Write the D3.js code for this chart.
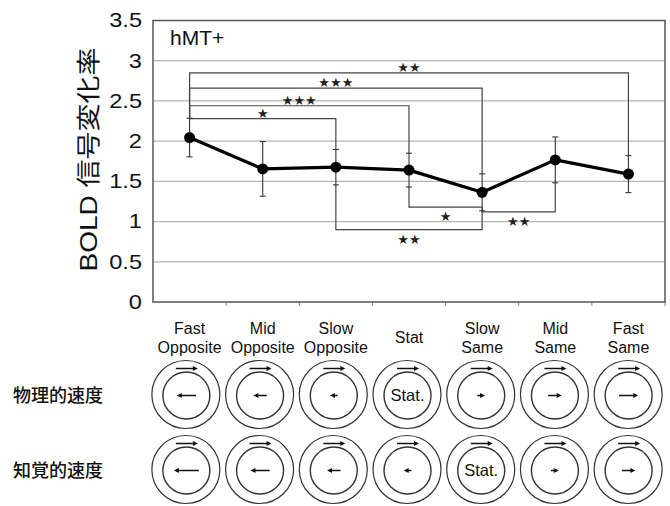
<!DOCTYPE html>
<html><head><meta charset="utf-8">
<script src="https://cdn.jsdelivr.net/npm/d3@7"></script>
<style>body{margin:0;background:#fff}svg{display:block}</style>
</head><body>
<svg id="c" width="670" height="506"></svg>
<script>
const categories = [["Fast","Opposite"],["Mid","Opposite"],["Slow","Opposite"],["Stat"],["Slow","Same"],["Mid","Same"],["Fast","Same"]];
const means = [2.045, 1.655, 1.676, 1.64, 1.364, 1.767, 1.59];
const errors = [0.24, 0.34, 0.22, 0.21, 0.23, 0.285, 0.23];
const yTicks = [0, 0.5, 1, 1.5, 2, 2.5, 3, 3.5];
const yTickLabels = ["0", "0.5", "1", "1.5", "2", "2.5", "3", "3.5"];
const upperBrackets = [[0, 6, 2.85, "★★"], [0, 4, 2.66, "★★★"], [0, 3, 2.44, "★★★"], [0, 2, 2.28, "★"]];
const lowerBrackets = [[3, 4, 1.18, "★"], [4, 5, 1.12, "★★"], [2, 4, 0.90, "★★"]];
const physicalSpeed = [-3, -2, -1, 0, 1, 2, 3];
const perceivedSpeed = [-4, -3, -2, -1, 0, 1, 2];
const rowLabels = ["物理的速度", "知覚的速度"];
const regionLabel = "hMT+";
const yTitle = "BOLD 信号変化率";

const svg = d3.select("#c");
const L = 153, R = 665, T = 20.5, B = 302;
const latin = "'Liberation Sans', Arial, Helvetica, sans-serif";
const cjk = "'Liberation Sans', 'Noto Sans CJK JP', sans-serif";
const idx = d3.range(categories.length);
const x = d3.scaleBand().domain(idx).range([L, R]);
const cx = i => x(i) + x.bandwidth() / 2;
const y = d3.scaleLinear().domain([0, 3.5]).range([B, T]);

// gridlines
svg.append("g").selectAll("line").data(yTicks.filter(v => v > 0 && v < 3.5)).join("line")
  .attr("x1", L).attr("x2", R).attr("y1", d => y(d)).attr("y2", d => y(d))
  .attr("stroke", "#b4b4b4").attr("stroke-width", 1.2);

// y axis labels
const yAxis = d3.axisLeft(y).tickValues(yTicks).tickFormat((d, i) => yTickLabels[i]).tickSize(0).tickPadding(0);
const ga = svg.append("g").attr("transform", `translate(${L},0)`).call(yAxis);
ga.select(".domain").remove();
ga.selectAll(".tick text").attr("x", 0).attr("font-family", latin).attr("font-size", 20).attr("fill", "#111")
  .attr("text-anchor", "end")
  .attr("transform", "translate(-11,0) scale(1.18,1)");

// x ticks at band boundaries
svg.append("g").selectAll("line").data(d3.range(1, categories.length + 1)).join("line")
  .attr("x1", d => x(0) + d * x.bandwidth()).attr("x2", d => x(0) + d * x.bandwidth())
  .attr("y1", B).attr("y2", B + 4).attr("stroke", "#888").attr("stroke-width", 1);

// plot frame
svg.append("rect").attr("x", L).attr("y", T).attr("width", R - L).attr("height", B - T)
  .attr("fill", "none").attr("stroke", "#555").attr("stroke-width", 1.5);

// brackets
const bg = svg.append("g").attr("fill", "none").attr("stroke", "#444").attr("stroke-width", 1.2);
const starFont = "'DejaVu Sans', sans-serif";
function drawBrackets(list, upper) {
  list.forEach(([a, b, lv, lab]) => {
    const end = i => upper ? means[i] + errors[i] : means[i] - errors[i];
    const p = d3.path();
    p.moveTo(cx(a), y(end(a)));
    p.lineTo(cx(a), y(lv)); p.lineTo(cx(b), y(lv)); p.lineTo(cx(b), y(end(b)));
    bg.append("path").attr("d", p.toString());
    svg.append("text").attr("x", (cx(a) + cx(b)) / 2).attr("y", y(lv) + (upper ? -1 : 14))
      .attr("text-anchor", "middle").attr("font-family", starFont).attr("font-size", 13).attr("fill", "#222").text(lab);
  });
}
drawBrackets(upperBrackets, true);
drawBrackets(lowerBrackets, false);

// error bars
const eg = svg.append("g").attr("stroke", "#333").attr("stroke-width", 1.1);
idx.forEach(i => {
  eg.append("line").attr("x1", cx(i)).attr("x2", cx(i)).attr("y1", y(means[i] - errors[i])).attr("y2", y(means[i] + errors[i]));
  [means[i] - errors[i], means[i] + errors[i]].forEach(v =>
    eg.append("line").attr("x1", cx(i) - 3).attr("x2", cx(i) + 3).attr("y1", y(v)).attr("y2", y(v)));
});

// line and markers
svg.append("path").datum(idx).attr("fill", "none").attr("stroke", "#000").attr("stroke-width", 3.2)
  .attr("stroke-linejoin", "round")
  .attr("d", d3.line().x(i => cx(i)).y(i => y(means[i])));
svg.append("g").selectAll("circle").data(idx).join("circle")
  .attr("cx", i => cx(i)).attr("cy", i => y(means[i])).attr("r", 5.5).attr("fill", "#000");

// region label
svg.append("text").attr("x", 170).attr("y", 45).attr("font-family", latin).attr("font-size", 21).attr("fill", "#111").text(regionLabel);

// y title
svg.append("text").attr("transform", `translate(97,159.5) rotate(-90)`).attr("text-anchor", "middle")
  .attr("font-family", cjk).attr("font-size", 24).attr("fill", "#111")
  .attr("textLength", 224).attr("lengthAdjust", "spacingAndGlyphs").text(yTitle);

// category labels
categories.forEach((c, i) => {
  const t = svg.append("text").attr("text-anchor", "middle").attr("font-family", latin).attr("font-size", 16).attr("fill", "#111");
  if (c.length === 1) {
    t.append("tspan").attr("x", cx(i)).attr("y", 343).text(c[0]);
  } else {
    t.append("tspan").attr("x", cx(i)).attr("y", 333.5).text(c[0]);
    t.append("tspan").attr("x", cx(i)).attr("y", 353).text(c[1]);
  }
});

// icons
const ix = d3.scaleBand().domain(idx).range([149, 665]);
const icx = i => ix(i) + ix.bandwidth() / 2;
const arrowLen = d3.scaleLinear().domain([0, 4]).range([2, 25]);
function arrow(g, x0, yy, len, dir) {
  const h = 5;
  const xe = x0 + dir * len / 2, xs = x0 - dir * len / 2;
  g.append("line").attr("x1", xs).attr("x2", xe - dir * h * 0.6).attr("y1", yy).attr("y2", yy)
    .attr("stroke", "#111").attr("stroke-width", 1.5);
  g.append("path").attr("d", `M${xe},${yy} L${xe - dir * h},${yy - 2.6} L${xe - dir * h},${yy + 2.6} Z`).attr("fill", "#111");
}
[[physicalSpeed, 394.5], [perceivedSpeed, 469.5]].forEach(([speeds, cy], r) => {
  const g = svg.append("g");
  speeds.forEach((s, i) => {
    const X = icx(i);
    g.append("circle").attr("cx", X).attr("cy", cy).attr("r", 34).attr("fill", "none").attr("stroke", "#333").attr("stroke-width", 1.2);
    g.append("circle").attr("cx", X + 0.5).attr("cy", cy + 1).attr("r", 23.5).attr("fill", "none").attr("stroke", "#333").attr("stroke-width", 1.4);
    arrow(g, X + 1, cy - 26, 22, 1);
    if (s === 0) {
      g.append("text").attr("x", X + 0.5).attr("y", cy + 6.5).attr("text-anchor", "middle").attr("font-family", latin)
        .attr("font-size", 16.5).attr("fill", "#111").text("Stat.");
    } else {
      arrow(g, X + 0.5, cy + 1, arrowLen(Math.abs(s)), Math.sign(s));
    }
  });
  svg.append("text").attr("x", 13).attr("y", cy + 7).attr("font-family", "'Noto Sans CJK JP', sans-serif")
    .attr("font-size", 18).attr("font-weight", 500).attr("fill", "#111").text(rowLabels[r]);
});
</script>
</body></html>
